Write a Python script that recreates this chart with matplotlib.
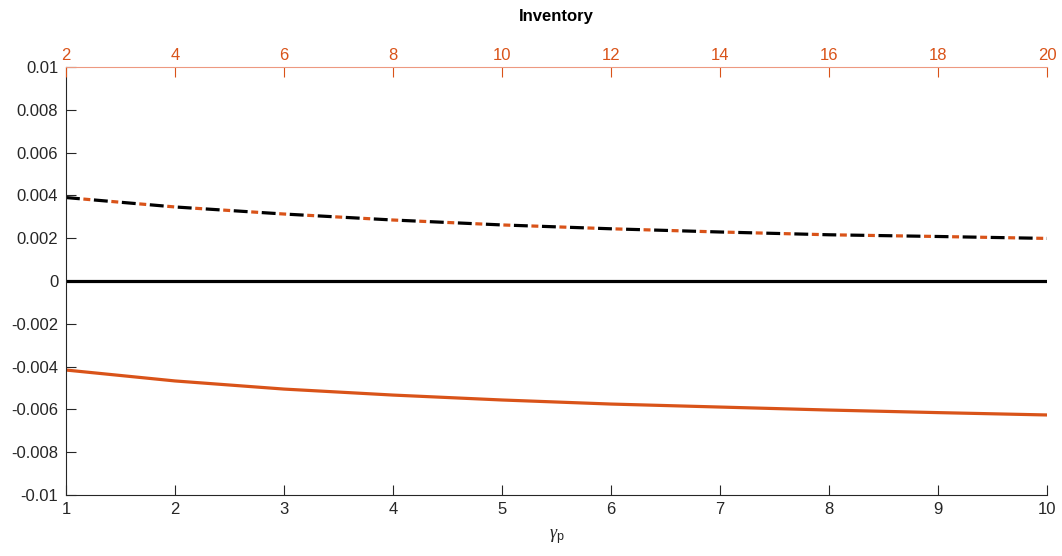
import matplotlib
matplotlib.use("Agg")
import matplotlib.pyplot as plt
import numpy as np

plt.rcParams['font.family'] = ['Liberation Sans', 'DejaVu Sans']
plt.rcParams['lines.scale_dashes'] = False
plt.rcParams['mathtext.fontset'] = 'custom'
plt.rcParams['mathtext.it'] = 'Liberation Serif:italic'
plt.rcParams['mathtext.rm'] = 'Liberation Sans'

gamma_p = [1, 2, 3, 4, 5, 6, 7, 8, 9, 10]
upper_series = [0.00390, 0.00346, 0.00313, 0.00285, 0.00262, 0.00244, 0.00229, 0.00216, 0.00208, 0.00199]
lower_series = [-0.00416, -0.00467, -0.00505, -0.00533, -0.00556, -0.00575, -0.00589, -0.00603, -0.00615, -0.00626]
zero_series = [0, 0, 0, 0, 0, 0, 0, 0, 0, 0]
inventory_ticks = [2, 4, 6, 8, 10, 12, 14, 16, 18, 20]
y_ticks = [-0.01, -0.008, -0.006, -0.004, -0.002, 0, 0.002, 0.004, 0.006, 0.008, 0.01]
y_ticklabels = ['-0.01', '-0.008', '-0.006', '-0.004', '-0.002', '0', '0.002', '0.004', '0.006', '0.008', '0.01']

orange = (0.85, 0.325, 0.098)
dark = (0.15, 0.15, 0.15)

fig = plt.figure(figsize=(10.62, 5.56), dpi=100)
ax = fig.add_axes([0.0621, 0.1097, 0.9238, 0.7698])

ax.plot(gamma_p, zero_series, color='black', lw=2.3, solid_capstyle='butt')
ax.plot(gamma_p, lower_series, color=orange, lw=2.3)
ax.plot(gamma_p, upper_series, color=orange, lw=2.3, linestyle=(7.6, (5, 15.2)))
ax.plot(gamma_p, upper_series, color='black', lw=2.3, linestyle=(0, (10, 10.2)))

ax.set_xlim(1, 10)
ax.set_ylim(-0.01, 0.01)
ax.set_xticks(gamma_p)
ax.set_yticks(y_ticks)
ax.set_yticklabels(y_ticklabels)
ax.tick_params(axis='both', direction='in', length=7, width=0.8, colors=dark, labelsize=12, pad=5.5)
ax.tick_params(axis='x', pad=5)
for s in ['top', 'right']:
    ax.spines[s].set_visible(False)
ax.spines['left'].set_color(dark)
ax.spines['bottom'].set_color(dark)
ax.set_xlabel(r'$\gamma_\mathrm{p}$', fontsize=13, color=dark, labelpad=7)

ax2 = ax.twiny()
ax2.set_xlim(2, 20)
ax2.set_xticks(inventory_ticks)
ax2.tick_params(axis='x', direction='in', length=7, width=0.8, colors=orange, labelsize=12, pad=3)
for s in ['bottom', 'left', 'right']:
    ax2.spines[s].set_visible(False)
ax2.spines['top'].set_color((0.93, 0.6, 0.5))
ax2.set_xlabel('Inventory', fontsize=12, fontweight='bold', color='black', labelpad=19)

fig.savefig('out.png', dpi=100)
